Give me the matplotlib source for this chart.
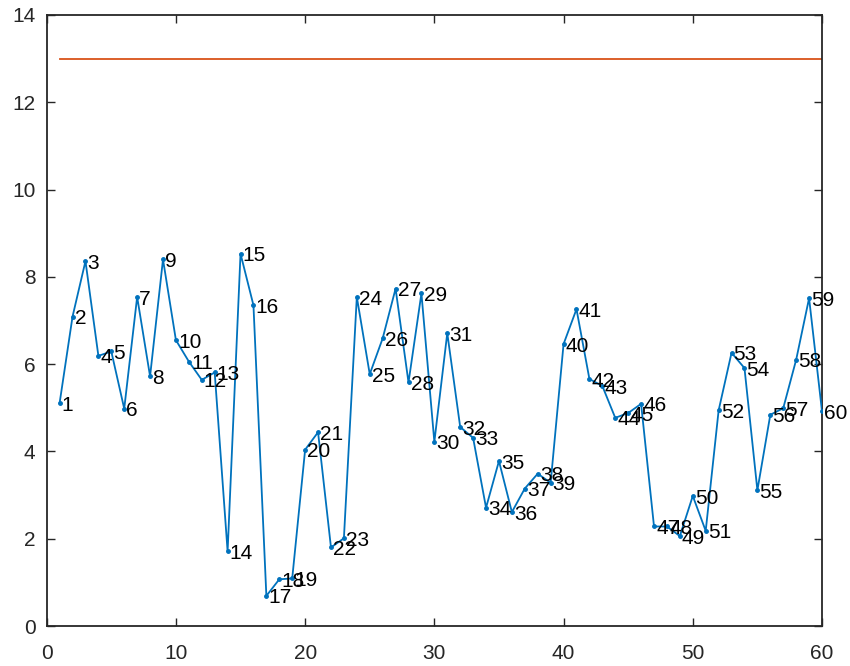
import matplotlib
matplotlib.use("Agg")
import matplotlib.pyplot as plt
from matplotlib.transforms import offset_copy

plt.rcParams['font.family'] = ['Liberation Sans', 'DejaVu Sans']

# Measured series (index 1..60)
x_vals = list(range(1, 61))
y_vals = [5.11, 7.09, 8.36, 6.19, 6.29, 4.98, 7.54, 5.72, 8.40, 6.55,
          6.06, 5.64, 5.81, 1.71, 8.53, 7.35, 0.69, 1.07, 1.09, 4.04,
          4.44, 1.80, 2.01, 7.54, 5.77, 6.59, 7.73, 5.58, 7.62, 4.22,
          6.71, 4.56, 4.31, 2.71, 3.78, 2.61, 3.15, 3.49, 3.28, 6.46,
          7.26, 5.66, 5.50, 4.77, 4.88, 5.09, 2.28, 2.28, 2.06, 2.98,
          2.18, 4.94, 6.26, 5.91, 3.11, 4.84, 4.99, 6.10, 7.51, 4.92]
point_labels = [str(i) for i in x_vals]

# Horizontal reference level
ref_level = 13
ref_x = [1, 60]

x_ticks = [0, 10, 20, 30, 40, 50, 60]
y_ticks = [0, 2, 4, 6, 8, 10, 12, 14]

blue = '#0072BD'
orange = '#D95319'
axis_gray = '#262626'
fs = 15

W, H = 850, 666
left, right, top, bottom = 46.7, 822, 15, 626
fig = plt.figure(figsize=(W / 100, H / 100), dpi=100)
ax = fig.add_axes([left / W, (H - bottom) / H, (right - left) / W, (bottom - top) / H])

ax.plot(x_vals, y_vals, color=blue, lw=1.3, marker='.', markersize=5, zorder=3)
ax.plot(ref_x, [ref_level, ref_level], color=orange, lw=1.3, zorder=2)

label_tr = offset_copy(ax.transData, fig=fig, x=1.5, y=-1.5, units='points')
for xv, yv, lab in zip(x_vals, y_vals, point_labels):
    ax.text(xv, yv, lab, ha='left', va='center', fontsize=fs, color='black',
            transform=label_tr, clip_on=False)

ax.set_xlim(0, 60)
ax.set_ylim(0, 14)
ax.set_xticks(x_ticks)
ax.set_yticks(y_ticks)
ax.tick_params(direction='in', length=6, width=1.0, colors=axis_gray,
               labelsize=fs, top=True, right=True)
ax.tick_params(axis='x', pad=13)
ax.tick_params(axis='y', pad=8)
for side in ax.spines.values():
    side.set_color(axis_gray)
    side.set_linewidth(1.3)

fig.savefig('out.png', dpi=100)
